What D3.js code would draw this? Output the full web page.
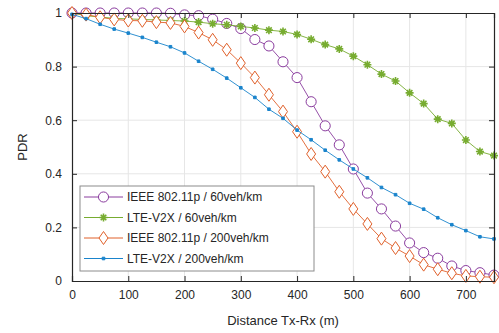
<!DOCTYPE html>
<html>
<head>
<meta charset="utf-8">
<script src="https://cdn.jsdelivr.net/npm/d3@7"></script>
<style>
  body { margin: 0; background: #fff; }
  text { font-family: "Liberation Sans", Arial, sans-serif; fill: #262626; }
</style>
</head>
<body>
<div id="chart"></div>
<script>
// distance Tx-Rx in metres, every 25 m
var distance = d3.range(0, 751, 25);

var ieee60 = [1.0, 1.0, 1.0, 1.0, 1.0, 1.0, 1.0, 0.999, 0.993, 0.99, 0.977, 0.961, 0.942,
  0.901, 0.877, 0.818, 0.759, 0.669, 0.579, 0.508, 0.418, 0.328, 0.269, 0.205,
  0.142, 0.106, 0.085, 0.056, 0.039, 0.031, 0.022];
var lte60 = [1.0, 0.99, 0.985, 0.98, 0.978, 0.976, 0.974, 0.972, 0.97, 0.966, 0.96, 0.956, 0.95,
  0.944, 0.936, 0.931, 0.92, 0.902, 0.882, 0.866, 0.839, 0.807, 0.772, 0.746,
  0.702, 0.662, 0.604, 0.588, 0.526, 0.483, 0.468];
var ieee200 = [1.0, 0.994, 0.984, 0.976, 0.972, 0.971, 0.966, 0.963, 0.95, 0.927, 0.9, 0.863, 0.813,
  0.759, 0.695, 0.632, 0.557, 0.474, 0.408, 0.333, 0.269, 0.213, 0.158, 0.123,
  0.093, 0.061, 0.044, 0.029, 0.019, 0.016, 0.014];
var lte200 = [0.995, 0.979, 0.958, 0.94, 0.925, 0.909, 0.891, 0.874, 0.851, 0.82, 0.79, 0.757, 0.721,
  0.685, 0.641, 0.607, 0.563, 0.527, 0.488, 0.452, 0.418, 0.385, 0.349, 0.322,
  0.29, 0.268, 0.236, 0.21, 0.188, 0.165, 0.157];

var seriesNames = ["IEEE 802.11p / 60veh/km", "LTE-V2X / 60veh/km",
  "IEEE 802.11p / 200veh/km", "LTE-V2X / 200veh/km"];
var xTicks = [0, 100, 200, 300, 400, 500, 600, 700];
var yTicks = [0, 0.2, 0.4, 0.6, 0.8, 1];

var series = [
  {name: seriesNames[0], values: ieee60, color: "#8a3c9e", marker: "circle"},
  {name: seriesNames[1], values: lte60, color: "#77AC30", marker: "star"},
  {name: seriesNames[2], values: ieee200, color: "#e0602a", marker: "diamond"},
  {name: seriesNames[3], values: lte200, color: "#1a84cc", marker: "point"}
];

var W = 499, H = 333;
var margin = {top: 13, right: 5, bottom: 52, left: 72};
var w = W - margin.left - margin.right,
    h = H - margin.top - margin.bottom;

var svg = d3.select("#chart").append("svg")
    .attr("width", W)
    .attr("height", H);

var g = svg.append("g")
    .attr("transform", "translate(" + margin.left + "," + margin.top + ")");

var x = d3.scaleLinear().domain([0, 750]).range([0, w]);
var y = d3.scaleLinear().domain([0, 1]).range([h, 0]);

// grid
g.append("g").selectAll("line").data(xTicks.slice(1)).join("line")
    .attr("x1", d => x(d)).attr("x2", d => x(d))
    .attr("y1", 0).attr("y2", h)
    .attr("stroke", "#e6e6e6");
g.append("g").selectAll("line").data(yTicks.slice(1, -1)).join("line")
    .attr("y1", d => y(d)).attr("y2", d => y(d))
    .attr("x1", 0).attr("x2", w)
    .attr("stroke", "#e6e6e6");

function markerPath(type) {
  if (type == "circle") return d3.symbol(d3.symbolCircle, 80)();
  if (type == "diamond") return "M0,-6.5L4.5,0L0,6.5L-4.5,0Z";
  if (type == "star") return "M-4,0H4M0,-4V4M-2.8,-2.8L2.8,2.8M-2.8,2.8L2.8,-2.8";
  return "M-1.3,-1.3H1.3V1.3H-1.3Z";
}

function drawMarker(sel, s) {
  sel.append("path")
      .attr("d", markerPath(s.marker))
      .attr("fill", s.marker == "point" ? s.color : (s.marker == "star" ? "none" : "#fff"))
      .attr("stroke", s.color)
      .attr("stroke-width", s.marker == "star" ? 1.6 : 1);
}

var line = d3.line().x((d, i) => x(distance[i])).y(d => y(d));

series.forEach(function(s) {
  var sg = g.append("g");
  sg.append("path")
      .datum(s.values)
      .attr("d", line)
      .attr("fill", "none")
      .attr("stroke", s.color)
      .attr("stroke-width", 0.9);
  sg.selectAll("g").data(s.values).join("g")
      .attr("transform", (d, i) => "translate(" + x(distance[i]) + "," + y(d) + ")")
      .each(function() { drawMarker(d3.select(this), s); });
});

// axes, ticks inside, box all round
var axisColor = "#262626";
var xb = g.append("g").attr("transform", "translate(0," + h + ")")
    .call(d3.axisBottom(x).tickValues(xTicks).tickSize(-5).tickPadding(9));
var xt = g.append("g")
    .call(d3.axisTop(x).tickValues(xTicks).tickSize(-5).tickFormat(""));
var yl = g.append("g")
    .call(d3.axisLeft(y).tickValues(yTicks).tickSize(-5).tickPadding(10).tickFormat(d3.format("~g")));
var yr = g.append("g").attr("transform", "translate(" + w + ",0)")
    .call(d3.axisRight(y).tickValues(yTicks).tickSize(-5).tickFormat(""));
[xb, xt, yl, yr].forEach(function(a) {
  a.select(".domain").attr("stroke", axisColor).attr("stroke-width", 1.2);
  a.selectAll(".tick line").attr("stroke", axisColor);
  a.selectAll(".tick text").attr("fill", axisColor).style("font-size", "12px")
      .style("font-family", "'Liberation Sans', Arial, sans-serif");
});

// axis titles
svg.append("text")
    .attr("x", margin.left + w / 2)
    .attr("y", 325)
    .attr("text-anchor", "middle")
    .style("font-size", "13px")
    .text("Distance Tx-Rx (m)");
svg.append("text")
    .attr("transform", "translate(27," + (margin.top + h / 2) + ") rotate(-90)")
    .attr("text-anchor", "middle")
    .style("font-size", "13px")
    .text("PDR");

// legend
var lg = svg.append("g").attr("transform", "translate(80,186)");
lg.append("rect")
    .attr("width", 234).attr("height", 85)
    .attr("fill", "#fff")
    .attr("stroke", "#8c8c8c");
series.forEach(function(s, i) {
  var row = lg.append("g").attr("transform", "translate(0," + (11 + i * 20.5) + ")");
  row.append("line")
      .attr("x1", 4).attr("x2", 43)
      .attr("stroke", s.color);
  var m = row.append("g").attr("transform", "translate(23.5,0)");
  drawMarker(m, s);
  row.append("text")
      .attr("x", 47)
      .attr("dy", "0.35em")
      .style("font-size", "12px")
      .text(s.name);
});
</script>
</body>
</html>
